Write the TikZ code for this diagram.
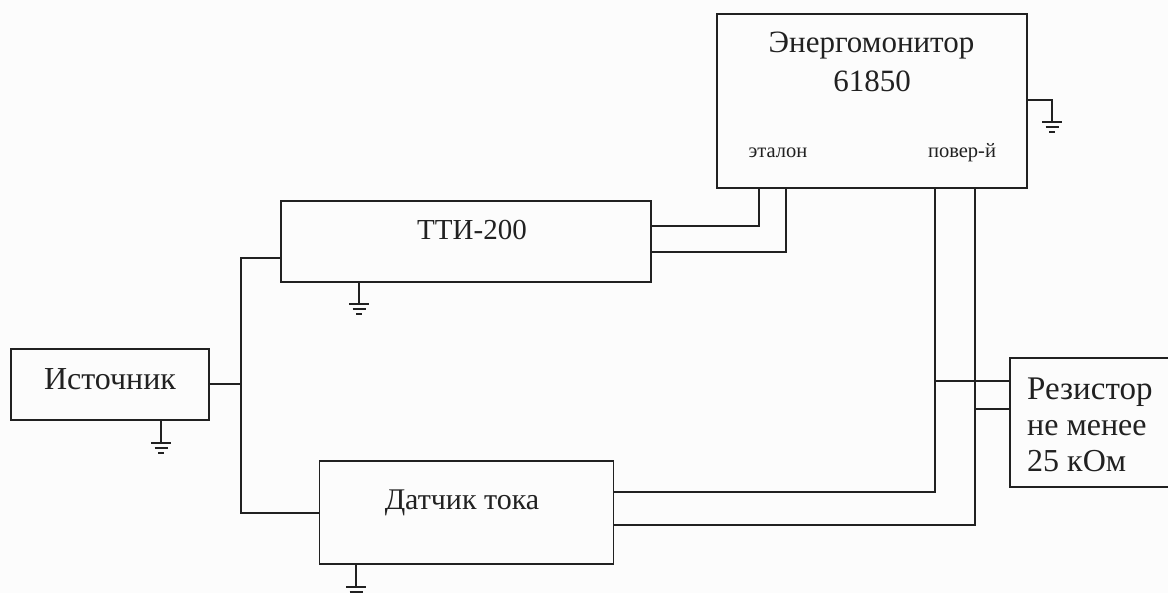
\documentclass[tikz,border=0pt]{standalone}
\usepackage{fontspec}
\setmainfont{Liberation Serif}
\usetikzlibrary{calc}
\definecolor{ink}{gray}{0.13}
\begin{document}
\begin{tikzpicture}[x=1pt,y=-1pt,
  blk/.style={draw=ink,line width=1.5pt,inner sep=0pt,outer sep=0pt},
  wire/.style={draw=ink,line width=1.5pt},
  lbl/.style={font=\fontsize{31}{39}\selectfont,text=ink,inner sep=0pt,anchor=base},
  small/.style={font=\fontsize{20.5}{24}\selectfont,text=ink,inner sep=0pt,anchor=base}]
\useasboundingbox (0,0) rectangle (1168,593);
\fill[white!99!black] (0,0) rectangle (1168,593);
% blocks
\node[blk,minimum width=310pt,minimum height=174pt] (mon) at (872,101) {};
\node[blk,minimum width=370pt,minimum height=81pt] (tti) at (466,241.5) {};
\node[blk,minimum width=198pt,minimum height=71pt] (src) at (110,384.5) {};
\node[blk,minimum width=294pt,minimum height=103pt] (dat) at (466.5,512.5) {};
\node[blk,minimum width=160pt,minimum height=129pt] (res) at (1090,422.5) {};
% labels
\node[lbl] (t1a) at (871.5,53) {Энергомонитор};
\node[lbl] (t1b) at (872,92) {61850};
\node[small] (t2) at (778,158) {эталон};
\node[small] (t3) at (962,158) {повер-й};
\node[lbl,font=\fontsize{29}{35}\selectfont] (t4) at (472,240) {ТТИ-200};
\node[lbl,font=\fontsize{32}{38}\selectfont] (t5) at (110,390) {Источник};
\node[lbl,font=\fontsize{30}{36}\selectfont] (t6) at (462,509) {Датчик тока};
\node[lbl,anchor=base west,font=\fontsize{33}{38}\selectfont] (t7a) at (1027,400) {Резистор};
\node[lbl,anchor=base west,font=\fontsize{32}{38}\selectfont] (t7b) at (1027,436) {не менее};
\node[lbl,anchor=base west,font=\fontsize{32}{38}\selectfont] (t7c) at (1027,472) {25 кОм};
% junctions
\coordinate (bus) at (241,384);
\coordinate (p1) at (759,188);
\coordinate (p2) at (786,188);
\coordinate (p3) at (935,188);
\coordinate (p4) at (975,188);
\coordinate (j3) at (935,381);
\coordinate (j4) at (975,409);
% connectors
\draw[wire] (src.east |- bus) -- (bus);
\draw[wire] (tti.west |- 0,258) -- (241,258) -- (241,513) -- (dat.west |- 0,513);
\draw[wire] (tti.east |- 0,226) -| (p1);
\draw[wire] (tti.east |- 0,252) -| (p2);
\draw[wire] (dat.east |- 0,492) -| (p3);
\draw[wire] (dat.east |- 0,525) -| (p4);
\draw[wire] (j3) -- (res.west |- j3);
\draw[wire] (j4) -- (res.west |- j4);
% grounds
\newcommand{\gndsym}[2]{\draw[wire] (#1-10,#2)--(#1+10,#2) (#1-6.5,#2+5)--(#1+6.5,#2+5);\draw[wire,line width=1.8pt] (#1-3,#2+10)--(#1+3,#2+10);}
\draw[wire] (tti.south -| 359,0) -- (359,304);
\gndsym{359}{304}
\draw[wire] (src.south -| 161,0) -- (161,443);
\gndsym{161}{443}
\draw[wire] (dat.south -| 356,0) -- (356,587);
\gndsym{356}{587}
\draw[wire] (mon.east |- 0,100) -- (1052,100) -- (1052,122);
\gndsym{1052}{122}
\end{tikzpicture}
\end{document}
